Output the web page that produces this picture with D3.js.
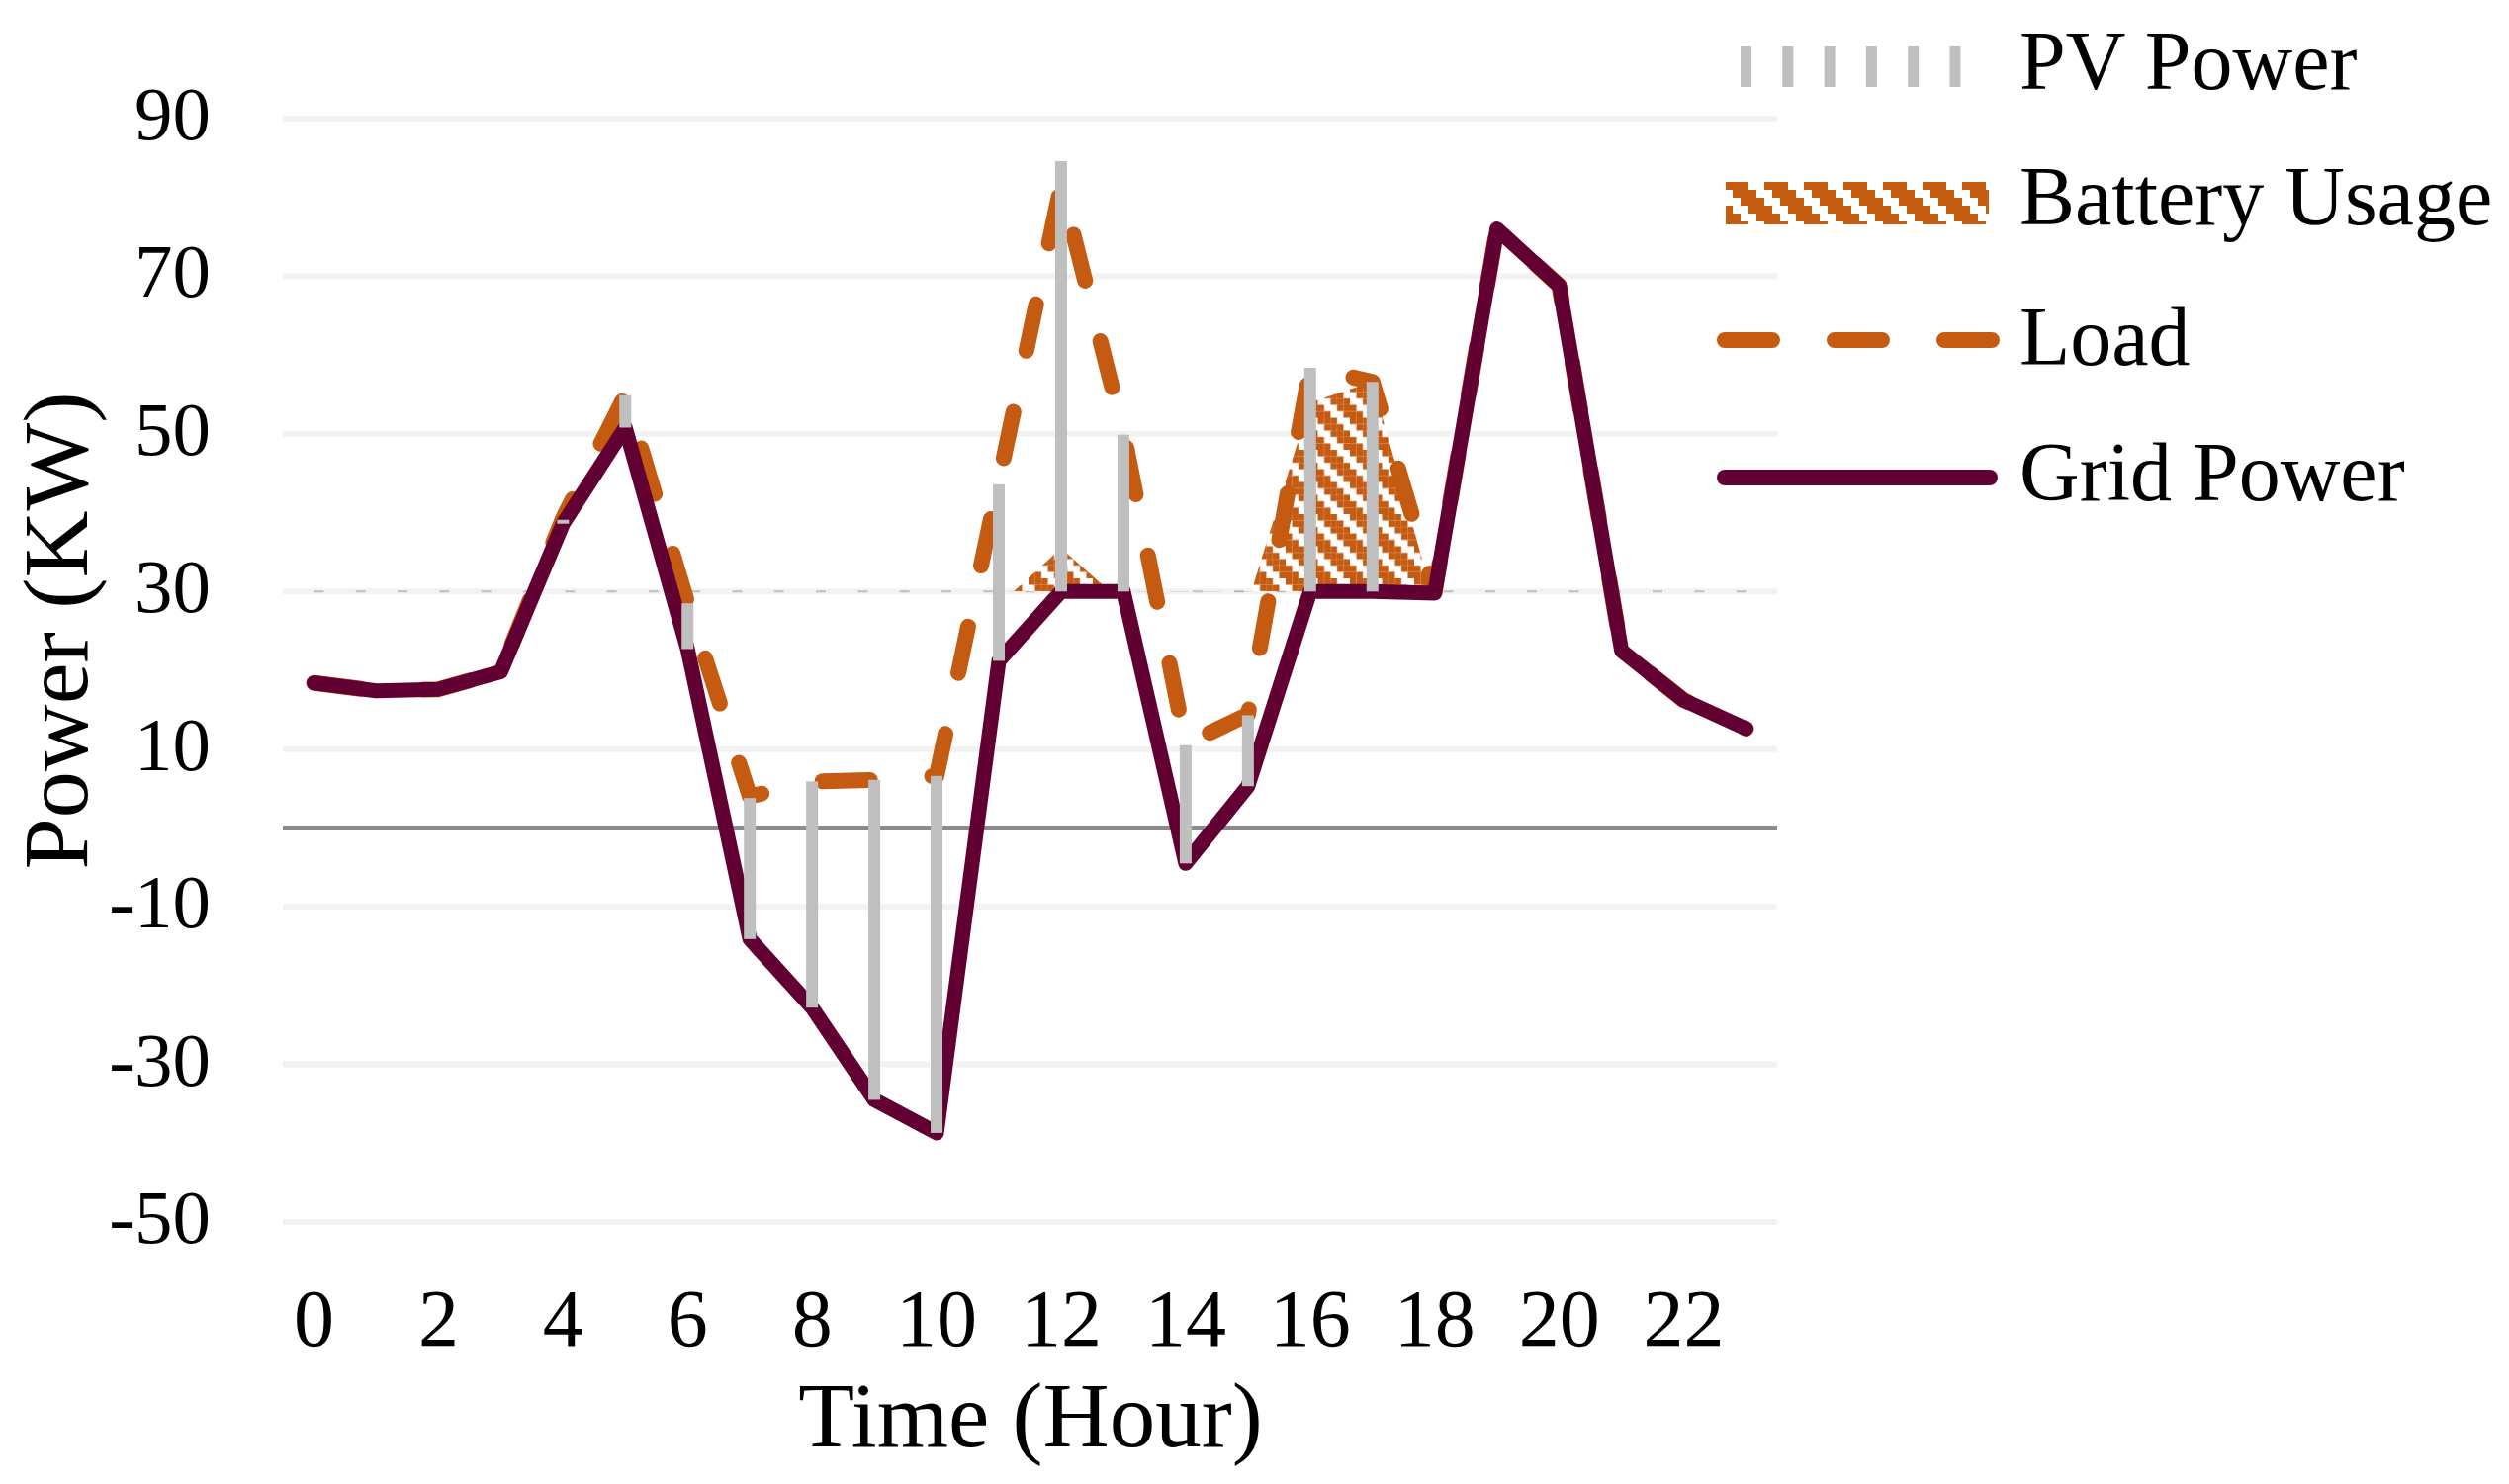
<!DOCTYPE html>
<html>
<head>
<meta charset="utf-8">
<script src="https://cdn.jsdelivr.net/npm/d3@7"></script>
<style>
  body { margin: 0; background: #ffffff; }
  svg { display: block; }
  text { font-family: "Liberation Serif", "Times New Roman", serif; fill: #000; }
</style>
</head>
<body>
<svg id="chart" width="2537" height="1501"></svg>
<script>
// ---------------- data ----------------
const hours = [0,1,2,3,4,5,6,7,8,9,10,11,12,13,14,15,16,17,18,19,20,21,22,23];
const xTickLabels = ["0","2","4","6","8","10","12","14","16","18","20","22"];
const yTicks = [-50,-30,-10,10,30,50,70,90];

// Grid Power (kW)
const gridPower = [18.4,17.4,17.6,19.8,38.6,50.8,22.7,-14.1,-22.8,-34.5,-38.7,21.2,
                   30.0,30.0,-4.5,5.3,30.0,30.0,29.8,76.0,68.8,22.5,16.2,12.6];
// Load (kW)
const load = [18.4,17.4,17.6,19.8,39.3,54.9,28.5,4.0,5.9,6.1,6.6,44.0,
              81.5,50.2,10.6,14.4,58.4,56.6,30.0,76.0,68.8,22.5,16.2,12.6];
// PV Power (kW), stacked on top of grid power
const pvPower = [0,0,0,0,0.5,4.1,5.8,17.9,28.7,40.6,45.3,22.4,
                 54.6,19.9,15.0,9.0,28.4,26.6,0,0,0,0,0,0];
// Battery Usage: level reached above the 30 kW grid limit (null = not used)
const batteryLevel = [null,null,null,null,null,null,null,null,null,null,null,28.3,
                      35.5,28.5,28.5,28.6,54.0,56.6,28.4,null,null,null,null,null];
const gridLimit = 30;

const seriesNames = ["PV Power","Battery Usage","Load","Grid Power"];

// ---------------- styles ----------------
const C_GRID = "#630033";
const C_LOAD = "#C55A11";
const C_PV = "#BFBFBF";
const C_GRIDLINE = "#F2F2F2";
const C_ZERO = "#8C8C8C";

const svg = d3.select("#chart");
svg.append("rect").attr("width",2537).attr("height",1501).attr("fill","#fff");

const x = d3.scaleBand().domain(hours).range([286, 1797]).padding(0);
const cx = h => x(h) + x.bandwidth()/2;
const y = d3.scaleLinear().domain([-50, 90]).range([1236, 120]);

const defs = svg.append("defs");
// zig-zag (staircase diagonal) hatch pattern for battery usage
function makeHatch(id, cell, n, orangeCells) {
  const pat = defs.append("pattern").attr("id",id)
    .attr("patternUnits","userSpaceOnUse").attr("width",cell*n).attr("height",cell*n);
  pat.append("rect").attr("width",cell*n).attr("height",cell*n).attr("fill","#fff");
  for (let r = 0; r < n; r++) for (let c = 0; c < n; c++) {
    if ((((c - r) % n) + n) % n < orangeCells) {
      pat.append("rect").attr("x",c*cell).attr("y",r*cell).attr("width",cell).attr("height",cell).attr("fill",C_LOAD);
    }
  }
}
makeHatch("hatch", 6.5, 5, 3);
makeHatch("hatchLegend", 8, 5, 3);
defs.append("clipPath").attr("id","aboveLimit")
  .append("rect").attr("x",286).attr("y",0).attr("width",1797-286).attr("height",y(gridLimit));

// ---------------- gridlines ----------------
svg.append("g").selectAll("line").data(yTicks).join("line")
  .attr("x1",286).attr("x2",1797)
  .attr("y1",d=>y(d)).attr("y2",d=>y(d))
  .attr("stroke",C_GRIDLINE).attr("stroke-width",6);
svg.append("line").attr("x1",286).attr("x2",1797).attr("y1",y(0)).attr("y2",y(0))
  .attr("stroke",C_ZERO).attr("stroke-width",5);

// faint dashed edge of PV fill along grid limit
svg.append("line").attr("x1",cx(0)).attr("x2",cx(23))
  .attr("y1",y(gridLimit)).attr("y2",y(gridLimit))
  .attr("stroke",C_PV).attr("stroke-width",2).attr("stroke-dasharray","10,32.3");

// ---------------- battery usage (hatched area) ----------------
const batData = hours.map((h,i)=>({h, v: batteryLevel[i]}));
const batArea = d3.area().defined(d=>d.v!=null)
  .x(d=>cx(d.h)).y0(y(gridLimit)).y1(d=>y(d.v));
svg.append("path").datum(batData).attr("d",batArea)
  .attr("fill","url(#hatch)").attr("clip-path","url(#aboveLimit)");

// ---------------- load (dashed) ----------------
const line = d3.line().x((d,i)=>cx(hours[i])).y(d=>y(d));
svg.append("path").datum(load).attr("d",line)
  .attr("fill","none").attr("stroke",C_LOAD).attr("stroke-width",16)
  .attr("stroke-dasharray","48,63").attr("stroke-linecap","round").attr("stroke-linejoin","round");

// ---------------- grid power ----------------
svg.append("path").datum(gridPower).attr("d",line)
  .attr("fill","none").attr("stroke",C_GRID).attr("stroke-width",15)
  .attr("stroke-linecap","round").attr("stroke-linejoin","round");

// ---------------- PV power bars ----------------
const pvData = hours.map((h,i)=>({h, base: gridPower[i], top: gridPower[i]+pvPower[i], v: pvPower[i]}))
  .filter(d=>d.v>0);
svg.append("g").selectAll("rect").data(pvData).join("rect")
  .attr("x",d=>cx(d.h)-6).attr("width",12)
  .attr("y",d=>y(d.top)).attr("height",d=>Math.max(1.5, y(d.base)-y(d.top)))
  .attr("fill",C_PV);

// ---------------- axes labels ----------------
svg.append("g").selectAll("text").data(yTicks).join("text")
  .attr("x",213).attr("y",d=>y(d)+21).attr("text-anchor","end")
  .attr("font-size",77).text(d=>d<0 ? "-"+Math.abs(d) : d);

svg.append("g").selectAll("text").data(xTickLabels).join("text")
  .attr("x",d=>cx(+d)).attr("y",1361).attr("text-anchor","middle")
  .attr("font-size",82).text(d=>d);

svg.append("text").attr("x",1042).attr("y",1463).attr("text-anchor","middle")
  .attr("font-size",93).text("Time (Hour)");
svg.append("text").attr("transform","translate(88,638) rotate(-90)")
  .attr("text-anchor","middle").attr("font-size",94).text("Power (KW)");

// ---------------- legend ----------------
const lg = svg.append("g");
const legendBaselines = [90, 227, 369, 506];
lg.selectAll("text").data(seriesNames).join("text")
  .attr("x",2042).attr("y",(d,i)=>legendBaselines[i]).attr("font-size",84).text(d=>d);
// PV marker
lg.selectAll("rect.pv").data(d3.range(6)).join("rect").attr("class","pv")
  .attr("x",i=>1760+i*42.3).attr("y",47).attr("width",11).attr("height",41).attr("fill",C_PV);
// Battery marker
lg.append("rect").attr("x",1745).attr("y",184).attr("width",266).attr("height",43).attr("fill","url(#hatchLegend)");
// Load marker
lg.append("line").attr("x1",1744).attr("x2",2014).attr("y1",344).attr("y2",344)
  .attr("stroke",C_LOAD).attr("stroke-width",16).attr("stroke-dasharray","48,63").attr("stroke-linecap","round");
// Grid marker
lg.append("line").attr("x1",1744).attr("x2",2012).attr("y1",483).attr("y2",483)
  .attr("stroke",C_GRID).attr("stroke-width",16).attr("stroke-linecap","round");
</script>
</body>
</html>
